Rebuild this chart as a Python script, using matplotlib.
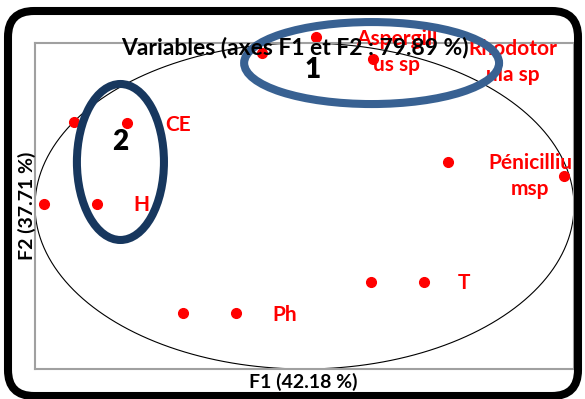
import matplotlib.pyplot as plt
from matplotlib.patches import Ellipse, FancyBboxPatch
from matplotlib.transforms import IdentityTransform
import numpy as np

plt.rcParams['font.family'] = ['Lato', 'DejaVu Sans']

# variable coordinates on F1 / F2
f1 = [0.041, -0.159, 0.253, 0.531, 0.962, -0.855, -0.660, -0.967, -0.770,
      0.247, 0.443, -0.451, -0.254]
f2 = [1.037, 0.939, 0.902, 0.270, 0.184, 0.515, 0.509, 0.012, 0.012,
      -0.466, -0.466, -0.656, -0.656]

labels = ["Aspergill\nus sp", "Rhodotor\nula sp", "Pénicilliu\nmsp",
          "CE", "H", "T", "Ph"]
label_x = [0.343, 0.773, 0.838, -0.518, -0.634, 0.570, -0.121]
label_y = [0.943, 0.884, 0.184, 0.497, 0.006, -0.472, -0.668]
label_ha = ["center", "center", "center", "left", "left", "left", "left"]

W, H = 585, 399
fig = plt.figure(figsize=(W / 100, H / 100), dpi=100)
ax = fig.add_axes([35 / W, 1 - 369 / H, (574 - 35) / W, (369 - 43) / H])
ax.set_xlim(-1, 1)
ax.set_ylim(-1, 1)
ax.set_xticks([])
ax.set_yticks([])
for s in ax.spines.values():
    s.set_color("#a0a0a0")
    s.set_linewidth(1.5)

# correlation circle
t = np.linspace(0, 2 * np.pi, 400)
ax.plot(np.cos(t), np.sin(t), color="black", lw=0.8, zorder=2)

ax.plot(f1, f2, "o", color="#ff0000", ms=7, clip_on=False, zorder=2)

for lab, x, y, ha in zip(labels, label_x, label_y, label_ha):
    ax.text(x, y, lab, color="#ff0000", fontsize=15, fontweight="bold",
            ha=ha, va="center", multialignment="center", linespacing=1.4,
            clip_on=False, zorder=3)

# groups
ax.add_patch(Ellipse((0.249, 0.877), 0.946, 0.503, fill=False,
                     ec="#386192", lw=5.8, zorder=5, clip_on=False))
ax.add_patch(Ellipse((-0.683, 0.270), 0.323, 0.957, fill=False,
                     ec="#17375e", lw=5.8, zorder=5, clip_on=False))
ax.text(0.030, 0.834, "1", fontsize=20, fontweight="heavy", ha="center",
        va="center", zorder=6)
ax.text(-0.683, 0.393, "2", fontsize=20, fontweight="heavy", ha="center",
        va="center", zorder=6)

fig.text(295 / W, 1 - 47 / H, "Variables (axes F1 et F2 : 79.89 %)",
         fontsize=16.5, fontweight="bold", ha="center", va="center", zorder=4)
fig.text(303 / W, 1 - 382 / H, "F1 (42.18 %)", fontsize=14,
         fontweight="bold", ha="center", va="center")
fig.text(27 / W, 1 - 206 / H, "F2 (37.71 %)", fontsize=14,
         fontweight="bold", ha="center", va="center", rotation=90)

frame = FancyBboxPatch((8, 3), 570, 385, boxstyle="round,pad=0,rounding_size=26",
                       fill=False, ec="black", lw=5.8, transform=IdentityTransform())
fig.patches.append(frame)

fig.savefig("out.png", dpi=100)
